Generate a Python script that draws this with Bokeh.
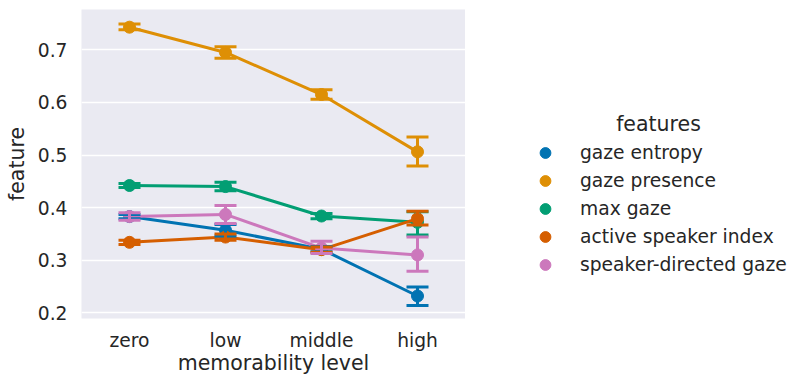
from bokeh.plotting import figure
from bokeh.layouts import row
from bokeh.models import (FactorRange, Range1d, ColumnDataSource, Whisker, TeeHead,
                          Legend, LegendItem, Label, FixedTicker)
from bokeh.embed import file_html
from bokeh.resources import INLINE

levels = ["zero", "low", "middle", "high"]
feature_names = ["gaze entropy", "gaze presence", "max gaze",
                 "active speaker index", "speaker-directed gaze"]
colors = ["#0173B2", "#DE8F05", "#029E73", "#D55E00", "#CC78BC"]

gaze_entropy = [0.383, 0.357, 0.321, 0.232]
gaze_entropy_lo = [0.379, 0.346, 0.316, 0.214]
gaze_entropy_hi = [0.387, 0.368, 0.326, 0.249]

gaze_presence = [0.743, 0.695, 0.615, 0.506]
gaze_presence_lo = [0.738, 0.684, 0.606, 0.479]
gaze_presence_hi = [0.749, 0.706, 0.624, 0.534]

max_gaze = [0.442, 0.440, 0.384, 0.372]
max_gaze_lo = [0.438, 0.432, 0.379, 0.348]
max_gaze_hi = [0.446, 0.448, 0.389, 0.392]

active_speaker = [0.334, 0.344, 0.320, 0.379]
active_speaker_lo = [0.330, 0.338, 0.315, 0.367]
active_speaker_hi = [0.338, 0.350, 0.325, 0.393]

speaker_directed = [0.383, 0.387, 0.323, 0.310]
speaker_directed_lo = [0.376, 0.370, 0.313, 0.279]
speaker_directed_hi = [0.390, 0.404, 0.336, 0.344]

y_ticks = [0.2, 0.3, 0.4, 0.5, 0.6, 0.7]
legend_title = "features"

series = [
    (gaze_entropy, gaze_entropy_lo, gaze_entropy_hi),
    (gaze_presence, gaze_presence_lo, gaze_presence_hi),
    (max_gaze, max_gaze_lo, max_gaze_hi),
    (active_speaker, active_speaker_lo, active_speaker_hi),
    (speaker_directed, speaker_directed_lo, speaker_directed_hi),
]

TEXT = "#262626"
FONT = "DejaVu Sans"
W_MAIN, W_LEG, H = 465, 326, 377

p = figure(width=W_MAIN, height=H, x_range=FactorRange(factors=levels, range_padding=0),
           y_range=Range1d(0.1892, 0.7766), output_backend="svg", toolbar_location=None,
           min_border_left=81, min_border_right=0, min_border_top=9, min_border_bottom=59)
p.frame_align = False
p.background_fill_color = "#EAEAF2"
p.border_fill_color = "white"
p.outline_line_color = None

p.xgrid.grid_line_color = None
p.ygrid.grid_line_color = "white"
p.ygrid.grid_line_width = 1.5
p.yaxis.ticker = FixedTicker(ticks=y_ticks)

for ax in (p.xaxis[0], p.yaxis[0]):
    ax.axis_line_color = None
    ax.major_tick_line_color = None
    ax.minor_tick_line_color = None
    ax.major_tick_out = 0
    ax.major_tick_in = 0
    ax.minor_tick_out = 0
    ax.minor_tick_in = 0
    ax.major_label_text_font = FONT
    ax.major_label_text_font_size = "18.7px"
    ax.major_label_text_color = TEXT
    ax.axis_label_text_font = FONT
    ax.axis_label_text_font_size = "20.5px"
    ax.axis_label_text_font_style = "normal"
    ax.axis_label_text_color = TEXT
p.xaxis.axis_label = "memorability level"
p.yaxis.axis_label = "feature"
p.xaxis.major_label_standoff = 11
p.xaxis.axis_label_standoff = -3
p.yaxis.major_label_standoff = 14
p.yaxis.axis_label_standoff = 6

for (vals, lo, hi), name, c in zip(series, feature_names, colors):
    src = ColumnDataSource(dict(x=levels, y=vals, lo=lo, hi=hi))
    p.line("x", "y", source=src, line_color=c, line_width=3)
    w = Whisker(base="x", lower="lo", upper="hi", source=src, dimension="height",
                line_color=c, line_width=3, level="glyph",
                upper_head=TeeHead(size=22, line_color=c, line_width=3),
                lower_head=TeeHead(size=22, line_color=c, line_width=3))
    p.add_layout(w)
    p.scatter("x", "y", source=src, size=12, fill_color=c, line_color=c)

# legend panel (separate figure so the legend is not clipped by the plot frame)
q = figure(width=W_LEG, height=H, x_range=Range1d(0, W_LEG), y_range=Range1d(0, H),
           output_backend="svg", toolbar_location=None,
           min_border_left=0, min_border_right=0, min_border_top=0, min_border_bottom=0)
q.frame_align = False
q.axis.visible = False
q.grid.visible = False
q.outline_line_color = None
q.background_fill_color = "white"
q.border_fill_color = "white"

items = []
for name, c in zip(feature_names, colors):
    # legend-only glyph: a single undefined point, never visible in the panel
    r = q.scatter(x=[float("nan")], y=[float("nan")], size=12, fill_color=c, line_color=c)
    items.append(LegendItem(label=name, renderers=[r]))

legend = Legend(items=items, location=(65, 99), padding=0, margin=0,
                glyph_width=30, glyph_height=27, label_height=27, spacing=1,
                label_standoff=20, label_text_font=FONT, label_text_font_size="18.7px",
                label_text_color=TEXT, background_fill_alpha=0, border_line_alpha=0)
q.add_layout(legend, "center")

title = Label(x=193, y=254, text=legend_title, text_align="center",
              text_baseline="middle", text_font=FONT,
              text_font_size="20.5px", text_color=TEXT)
q.add_layout(title)

layout = row(p, q, spacing=0)
open("out.html", "w").write(file_html(layout, INLINE))
